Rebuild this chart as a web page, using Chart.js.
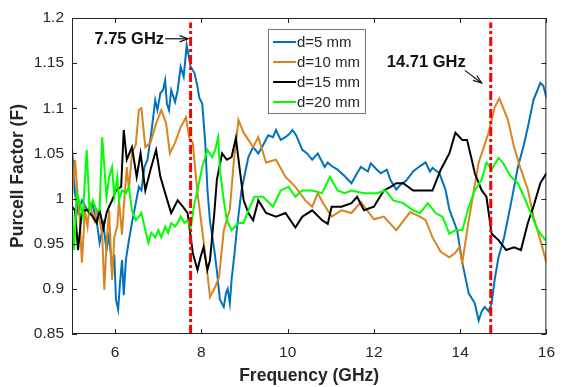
<!DOCTYPE html>
<html>
<head>
<meta charset="utf-8">
<script src="https://cdn.jsdelivr.net/npm/chart.js@4.4.1/dist/chart.umd.min.js"></script>
<style>
  html, body { margin: 0; padding: 0; background: #fff; }
  #wrap { width: 564px; height: 387px; }
</style>
</head>
<body>
<div id="wrap"><canvas id="chart" width="564" height="387"></canvas></div>
<script>
// Purcell factor vs frequency, four antenna spacings
const freqD5 = [5.00,5.07,5.14,5.23,5.36,5.48,5.57,5.64,5.73,5.80,5.86,5.93,5.98,6.02,6.07,6.11,6.16,6.20,6.25,6.32,6.39,6.48,6.55,6.61,6.68,6.75,6.84,6.93,6.98,7.05,7.11,7.16,7.20,7.25,7.30,7.39,7.45,7.52,7.59,7.66,7.75,7.84,7.91,7.95,8.02,8.09,8.14,8.20,8.30,8.36,8.43,8.52,8.57,8.61,8.66,8.70,8.77,8.82,8.93,9.02,9.09,9.20,9.32,9.43,9.55,9.66,9.73,9.84,9.95,10.05,10.11,10.20,10.34,10.45,10.57,10.70,10.86,10.93,11.02,11.16,11.32,11.48,11.61,11.70,11.86,11.93,12.07,12.16,12.30,12.39,12.52,12.61,12.75,12.91,13.07,13.20,13.30,13.36,13.52,13.66,13.75,13.89,13.93,14.05,14.20,14.34,14.43,14.50,14.57,14.66,14.73,14.80,14.89,15.02,15.18,15.34,15.48,15.57,15.70,15.86,15.93,16.00];
const purcellD5 = [1.056,1.006,0.985,0.998,0.987,0.993,0.976,0.951,0.971,0.943,0.960,0.921,0.938,0.888,0.877,0.905,0.932,0.893,0.932,0.954,0.973,0.995,1.013,1.009,1.035,1.043,1.073,1.109,1.098,1.117,1.120,1.131,1.105,1.098,1.120,1.107,1.120,1.146,1.135,1.170,1.146,1.139,1.124,1.112,1.105,1.062,1.010,0.975,0.943,0.920,0.888,0.880,0.895,0.900,0.884,0.910,0.940,0.965,1.009,1.030,1.046,1.057,1.050,1.059,1.070,1.068,1.076,1.065,1.068,1.072,1.076,1.070,1.054,1.050,1.043,1.050,1.035,1.040,1.036,1.032,1.025,1.017,1.028,1.035,1.030,1.039,1.032,1.028,1.032,1.020,1.010,1.015,1.020,1.030,1.036,1.040,1.030,1.034,1.028,1.010,0.988,0.970,0.965,0.929,0.895,0.884,0.865,0.875,0.880,0.875,0.884,0.910,0.935,0.957,0.995,1.035,1.060,1.079,1.109,1.128,1.125,1.112];

const freqD10 = [5.00,5.07,5.14,5.18,5.23,5.30,5.36,5.41,5.52,5.57,5.64,5.70,5.75,5.80,5.86,5.93,5.98,6.05,6.09,6.16,6.20,6.27,6.32,6.39,6.48,6.55,6.61,6.70,6.82,6.95,7.07,7.18,7.27,7.39,7.52,7.64,7.73,7.80,7.91,8.07,8.20,8.32,8.41,8.52,8.66,8.75,8.86,8.98,9.09,9.20,9.32,9.50,9.73,9.95,10.18,10.41,10.57,10.70,10.82,11.02,11.25,11.48,11.70,12.00,12.23,12.52,12.84,13.07,13.20,13.36,13.55,13.75,13.89,13.98,14.05,14.20,14.43,14.66,14.80,14.91,15.11,15.25,15.41,15.57,15.70,15.86,16.00];
const purcellD10 = [1.000,1.043,0.998,0.976,0.929,0.987,0.969,0.995,0.976,0.987,0.976,0.960,0.899,0.950,0.987,0.910,0.957,0.969,0.998,0.960,0.990,1.035,1.010,1.050,1.060,1.098,1.100,1.057,1.062,1.083,1.098,1.084,1.050,1.062,1.079,1.090,1.065,1.062,1.006,0.946,0.891,0.902,0.913,0.965,0.988,1.040,1.087,1.073,1.065,1.057,1.068,1.040,1.043,1.024,1.013,0.998,0.991,1.006,0.995,0.980,0.987,0.984,0.996,0.977,0.980,0.965,0.985,0.980,0.976,0.957,0.941,0.935,0.940,0.946,0.929,0.976,1.040,1.073,1.101,1.111,1.087,1.057,1.032,1.010,0.980,0.954,0.929];

const freqD15 = [5.00,5.07,5.14,5.23,5.36,5.48,5.57,5.64,5.73,5.80,5.86,5.93,6.02,6.14,6.20,6.27,6.39,6.50,6.59,6.70,6.82,6.95,7.05,7.16,7.30,7.45,7.57,7.68,7.80,7.91,7.98,8.05,8.14,8.20,8.30,8.36,8.48,8.59,8.70,8.80,8.89,8.98,9.09,9.20,9.32,9.50,9.73,9.95,10.18,10.34,10.57,10.80,10.93,11.02,11.25,11.48,11.61,11.77,12.00,12.23,12.39,12.52,12.68,12.91,13.14,13.36,13.55,13.75,13.89,14.05,14.16,14.27,14.34,14.50,14.61,14.73,14.89,15.07,15.25,15.41,15.57,15.70,15.86,16.00];
const purcellD15 = [0.991,0.987,0.943,0.987,0.987,0.980,0.973,0.987,0.967,0.984,0.991,0.998,1.009,1.013,1.076,1.043,1.057,1.024,1.050,1.009,1.032,1.054,1.024,1.006,0.984,0.998,0.991,0.984,0.940,0.921,0.935,0.946,0.921,0.932,0.984,1.021,1.050,1.043,1.046,1.067,1.032,0.998,0.984,0.976,0.998,0.984,0.980,0.984,0.968,0.980,0.987,0.976,0.972,0.991,0.991,0.995,1.002,0.987,0.991,1.009,1.013,1.017,1.017,1.009,1.009,1.009,1.032,1.050,1.073,1.065,1.065,1.043,1.028,1.009,1.002,0.961,0.954,0.943,0.946,0.943,0.973,0.991,1.017,1.028];

const freqD20 = [5.00,5.05,5.11,5.18,5.25,5.34,5.41,5.48,5.57,5.64,5.70,5.80,5.86,5.93,5.98,6.05,6.09,6.16,6.25,6.32,6.39,6.48,6.55,6.61,6.70,6.77,6.84,6.93,7.00,7.07,7.16,7.23,7.30,7.39,7.45,7.52,7.61,7.68,7.75,7.84,7.91,8.02,8.14,8.25,8.32,8.39,8.43,8.52,8.59,8.70,8.86,8.98,9.09,9.23,9.43,9.66,9.84,10.02,10.18,10.34,10.57,10.80,10.98,11.16,11.32,11.48,11.77,12.07,12.27,12.45,12.68,12.91,13.07,13.25,13.43,13.59,13.75,13.89,14.05,14.20,14.34,14.50,14.61,14.73,14.89,15.00,15.18,15.34,15.48,15.64,15.80,15.98];
const purcellD20 = [0.987,0.943,1.006,0.995,0.980,1.054,0.987,0.998,0.987,0.987,1.068,1.002,1.024,1.035,1.002,1.024,0.998,1.009,1.006,1.013,0.987,0.976,0.980,0.984,0.965,0.951,0.962,0.957,0.965,0.957,0.969,0.962,0.973,0.969,0.973,0.980,0.973,0.976,0.967,0.995,1.009,1.035,1.054,1.046,1.054,1.068,1.032,0.998,0.976,0.965,0.973,0.973,0.987,1.002,1.002,0.991,1.009,1.013,1.002,1.009,1.009,1.006,1.024,1.009,1.006,1.009,1.006,1.006,1.009,0.998,0.995,0.987,0.984,0.995,0.984,0.980,0.961,0.965,0.965,0.991,1.009,1.021,1.040,1.032,1.045,1.039,1.024,1.017,1.002,0.984,0.965,0.954];

const seriesLabels = ['d=5 mm', 'd=10 mm', 'd=15 mm', 'd=20 mm'];
const markerFreqs = [7.75, 14.71];
const markerLabels = ['7.75 GHz', '14.71 GHz'];
const xTicks = [6, 8, 10, 12, 14, 16];
const yTicks = [0.85, 0.9, 0.95, 1, 1.05, 1.1, 1.15, 1.2];
const yTickLabels = ['0.85', '0.9', '0.95', '1', '1.05', '1.1', '1.15', '1.2'];

const colors = ['#0072BD', '#D9841E', '#000000', '#00FF00'];
const FONT = '"Liberation Sans", Arial, sans-serif';
const INK = '#262626';

const toPoints = (xs, ys) => xs.map((x, i) => ({ x: x, y: ys[i] }));
const allFreqs = [freqD5, freqD10, freqD15, freqD20];
const allVals = [purcellD5, purcellD10, purcellD15, purcellD20];

const datasets = seriesLabels.map((label, i) => ({
    label: label,
    data: toPoints(allFreqs[i], allVals[i]),
    borderColor: colors[i],
    borderWidth: 2,
    pointRadius: 0,
    tension: 0,
    order: 4 - i
}));

markerFreqs.forEach(f => {
    datasets.push({
        label: '',
        data: [{ x: f, y: 0.85 }, { x: f, y: 1.195 }],
        borderColor: '#FF0000',
        borderWidth: 3,
        borderDash: [9, 3, 3, 3],
        pointRadius: 0,
        order: 0,
        clip: false
    });
});

function drawArrow(ctx, x1, y1, x2, y2) {
    const ang = Math.atan2(y2 - y1, x2 - x1);
    ctx.beginPath();
    ctx.moveTo(x1, y1);
    ctx.lineTo(x2, y2);
    ctx.stroke();
    ctx.beginPath();
    ctx.moveTo(x2 - 9 * Math.cos(ang - 0.35), y2 - 9 * Math.sin(ang - 0.35));
    ctx.lineTo(x2, y2);
    ctx.lineTo(x2 - 9 * Math.cos(ang + 0.35), y2 - 9 * Math.sin(ang + 0.35));
    ctx.stroke();
}

// box, inward ticks, legend and the two frequency callouts
const framePlugin = {
    id: 'frame',
    afterDatasetsDraw(chart) {
        const { ctx, chartArea: a, scales: { x, y } } = chart;
        ctx.save();
        ctx.strokeStyle = INK;
        ctx.lineWidth = 1;
        ctx.strokeRect(a.left + 0.5, a.top + 0.5, a.right - a.left - 1, a.bottom - a.top - 1);

        ctx.beginPath();
        xTicks.forEach(v => {
            const px = Math.round(x.getPixelForValue(v)) + 0.5;
            ctx.moveTo(px, a.bottom); ctx.lineTo(px, a.bottom - 5);
            ctx.moveTo(px, a.top); ctx.lineTo(px, a.top + 5);
        });
        yTicks.forEach(v => {
            const py = Math.round(y.getPixelForValue(v)) + 0.5;
            ctx.moveTo(a.left, py); ctx.lineTo(a.left + 5, py);
            ctx.moveTo(a.right, py); ctx.lineTo(a.right - 5, py);
        });
        ctx.stroke();

        // legend
        const lx = a.left + 196, ly = a.top + 11, lw = 97, lh = 84;
        ctx.fillStyle = '#fff';
        ctx.fillRect(lx, ly, lw, lh);
        ctx.strokeStyle = '#777';
        ctx.strokeRect(lx + 0.5, ly + 0.5, lw, lh);
        ctx.font = '15px ' + FONT;
        ctx.textBaseline = 'middle';
        ctx.textAlign = 'left';
        seriesLabels.forEach((label, i) => {
            const ry = ly + 13 + i * 20;
            ctx.strokeStyle = colors[i];
            ctx.lineWidth = 2;
            ctx.beginPath();
            ctx.moveTo(lx + 5, ry); ctx.lineTo(lx + 28, ry);
            ctx.stroke();
            ctx.fillStyle = INK;
            ctx.fillText(label, lx + 29, ry + 1);
        });

        // callouts
        ctx.font = 'bold 16.5px ' + FONT;
        ctx.fillStyle = '#111';
        ctx.fillText(markerLabels[0], x.getPixelForValue(5.52), y.getPixelForValue(1.176));
        ctx.fillText(markerLabels[1], x.getPixelForValue(12.30), y.getPixelForValue(1.151));
        ctx.strokeStyle = '#111';
        ctx.lineWidth = 1.2;
        drawArrow(ctx, x.getPixelForValue(7.16), y.getPixelForValue(1.177),
                       x.getPixelForValue(7.69), y.getPixelForValue(1.177));
        drawArrow(ctx, x.getPixelForValue(14.11), y.getPixelForValue(1.142),
                       x.getPixelForValue(14.50), y.getPixelForValue(1.128));
        ctx.restore();
    }
};

const tickFont = { family: FONT, size: 15.5 };
const titleFont = { family: FONT, size: 17.5, weight: 'bold' };

new Chart(document.getElementById('chart'), {
    type: 'line',
    data: { datasets: datasets },
    options: {
        responsive: false,
        animation: false,
        layout: { padding: { top: 18, right: 8, left: 0, bottom: 0 } },
        plugins: { legend: { display: false }, tooltip: { enabled: false } },
        scales: {
            x: {
                type: 'linear',
                min: 5,
                max: 16,
                afterBuildTicks: s => { s.ticks = xTicks.map(v => ({ value: v })); },
                afterFit: s => { s.height = 53; },
                grid: { display: false, drawTicks: false },
                border: { display: false },
                ticks: { padding: 9, color: INK, font: tickFont, maxRotation: 0, autoSkip: false },
                title: { display: true, text: 'Frequency (GHz)', color: INK, font: titleFont, padding: { top: 0, bottom: 0 } }
            },
            y: {
                type: 'linear',
                min: 0.85,
                max: 1.2,
                afterBuildTicks: s => { s.ticks = yTicks.map(v => ({ value: v })); },
                afterFit: s => { s.width = 72; },
                grid: { display: false, drawTicks: false },
                border: { display: false },
                ticks: {
                    padding: 8, color: INK, font: tickFont, autoSkip: false,
                    callback: (v, i) => yTickLabels[i]
                },
                title: { display: true, text: 'Purcell Factor (F)', color: INK, font: titleFont, padding: { top: 8, bottom: 0 } }
            }
        }
    },
    plugins: [framePlugin]
});
</script>
</body>
</html>
